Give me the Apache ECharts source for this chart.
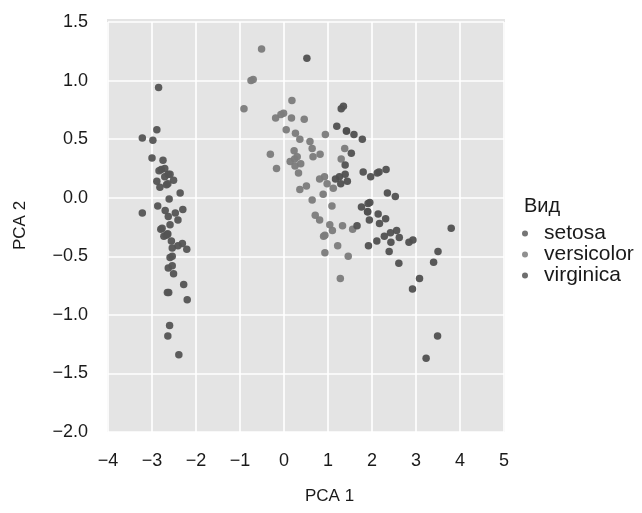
<!DOCTYPE html>
<html>
<head>
<meta charset="utf-8">
<script src="https://cdn.jsdelivr.net/npm/echarts@6/dist/echarts.min.js"></script>
<style>
  html, body { margin: 0; padding: 0; background: #ffffff; }
  #chart { width: 642px; height: 513px; }
</style>
</head>
<body>
<div id="chart"></div>
<script>
// Iris measurements projected onto the first two principal components
const speciesNames = ['setosa', 'versicolor', 'virginica'];

const setosa = [
  [-2.68, -0.32], [-2.71, 0.18], [-2.89, 0.14], [-2.75, 0.32], [-2.73, -0.33],
  [-2.28, -0.74], [-2.82, 0.09], [-2.63, -0.16], [-2.89, 0.58], [-2.67, 0.11],
  [-2.51, -0.65], [-2.61, -0.01], [-2.79, 0.24], [-3.22, 0.51], [-2.64, -1.18],
  [-2.39, -1.34], [-2.62, -0.81], [-2.65, -0.31], [-2.20, -0.87], [-2.59, -0.51],
  [-2.31, -0.39], [-2.54, -0.43], [-3.22, -0.13], [-2.30, -0.10], [-2.36, 0.04],
  [-2.51, 0.15], [-2.47, -0.13], [-2.56, -0.37], [-2.64, -0.31], [-2.63, 0.20],
  [-2.59, 0.20], [-2.41, -0.41], [-2.65, -0.81], [-2.60, -1.09], [-2.64, 0.12],
  [-2.87, -0.07], [-2.63, -0.60], [-2.80, -0.27], [-2.98, 0.49], [-2.59, -0.23],
  [-2.77, -0.26], [-2.85, 0.94], [-3.00, 0.34], [-2.41, -0.19], [-2.21, -0.44],
  [-2.71, 0.25], [-2.54, -0.50], [-2.84, 0.23], [-2.54, -0.58], [-2.70, -0.11]
];

const versicolor = [
  [1.28, -0.69], [0.93, -0.32], [1.46, -0.50], [0.18, 0.83], [1.09, -0.07],
  [0.64, 0.42], [1.10, -0.28], [-0.75, 1.00], [1.04, -0.23], [-0.01, 0.72],
  [-0.51, 1.27], [0.51, 0.10], [0.26, 0.55], [0.98, 0.12], [-0.17, 0.25],
  [0.93, -0.47], [0.66, 0.35], [0.24, 0.33], [0.94, 0.54], [0.05, 0.58],
  [1.12, 0.08], [0.36, 0.07], [1.30, 0.33], [0.92, 0.18], [0.71, -0.15],
  [0.90, -0.33], [1.33, -0.24], [1.56, -0.27], [0.81, 0.16], [-0.31, 0.37],
  [-0.07, 0.71], [-0.19, 0.68], [0.14, 0.31], [1.38, 0.42], [0.59, 0.48],
  [0.81, -0.19], [1.22, -0.41], [0.82, 0.37], [0.25, 0.27], [0.17, 0.68],
  [0.46, 0.67], [0.89, 0.03], [0.23, 0.40], [-0.70, 1.01], [0.36, 0.50],
  [0.33, 0.21], [0.38, 0.29], [0.64, -0.02], [-0.91, 0.76], [0.30, 0.35]
];

const virginica = [
  [2.53, 0.01], [1.42, 0.57], [2.62, -0.34], [1.97, 0.18], [2.35, 0.04],
  [3.40, -0.55], [0.52, 1.19], [2.93, -0.36], [2.32, 0.24], [2.92, -0.78],
  [1.66, -0.24], [1.80, 0.22], [2.17, -0.22], [1.35, 0.78], [1.59, 0.54],
  [1.90, -0.12], [1.95, -0.04], [3.49, -1.18], [3.80, -0.26], [1.30, 0.76],
  [2.43, -0.38], [1.20, 0.61], [3.50, -0.46], [1.39, 0.20], [2.28, -0.33],
  [2.61, -0.56], [1.26, 0.18], [1.29, 0.12], [2.12, 0.21], [2.39, -0.46],
  [2.84, -0.38], [3.23, -1.37], [2.16, 0.22], [1.44, 0.14], [1.78, 0.50],
  [3.08, -0.69], [2.14, -0.14], [1.91, -0.05], [1.17, 0.16], [2.11, -0.37],
  [2.31, -0.18], [1.92, -0.41], [1.42, 0.57], [2.56, -0.28], [2.42, -0.30],
  [1.94, -0.19], [1.53, 0.38], [1.76, -0.08], [1.90, -0.12], [1.39, 0.28]
];

const seriesData = [setosa, versicolor, virginica];
const seriesColors = ['#545454', '#7b7b7b', '#505050'];
const legendColors = ['#6e6e6e', '#8a8a8a', '#666666'];

const xTicks = { min: -4, max: 5, interval: 1 };
const yTicks = { min: -2, max: 1.5, interval: 0.5 };

const FONT = '"Liberation Sans", Arial, sans-serif';
const INK = '#1a1a1a';
const chart = echarts.init(document.getElementById('chart'), null, { renderer: 'canvas' });

const gridLeft = 108, gridTop = 22, gridW = 396, gridH = 410;

chart.setOption({
  animation: false,
  backgroundColor: '#ffffff',
  textStyle: { fontFamily: FONT },
  grid: { left: gridLeft, top: gridTop, width: gridW, height: gridH, show: false },
  graphic: {
    elements: [
      {
        type: 'rect', z: -100, silent: true,
        shape: { x: 107, y: 19, width: 398, height: 413 },
        style: { fill: '#e4e4e4' }
      },
      {
        type: 'text', left: 305, top: 488, silent: true,
        style: { text: 'PCA 1', fontSize: 17, fontFamily: FONT, fill: INK }
      },
      {
        type: 'text', silent: true, x: 12, y: 250, rotation: Math.PI / 2,
        style: { text: 'PCA 2', fontSize: 17, fontFamily: FONT, fill: INK }
      },
      {
        type: 'text', left: 524, top: 196, silent: true,
        style: { text: 'Вид', fontSize: 20, fontFamily: FONT, fill: INK }
      }
    ]
  },
  legend: {
    orient: 'vertical',
    left: 522, top: 223,
    padding: 0,
    icon: 'circle',
    itemWidth: 6, itemHeight: 6,
    itemGap: 0,
    selectedMode: false,
    textStyle: { fontSize: 21, lineHeight: 18.5, fontFamily: FONT, color: INK, padding: [0, 0, 0, 11] },
    data: speciesNames.map((n, i) => ({ name: n, itemStyle: { color: legendColors[i] } }))
  },
  xAxis: {
    type: 'value',
    min: xTicks.min, max: xTicks.max, interval: xTicks.interval,
    axisLine: { show: false },
    axisTick: { show: false },
    axisLabel: {
      margin: 20, fontSize: 18, fontFamily: FONT, color: INK,
      formatter: v => String(v).replace('-', '\u2212')
    },
    splitLine: { show: true, lineStyle: { color: '#ffffff', width: 1.6 } }
  },
  yAxis: {
    type: 'value',
    min: yTicks.min, max: yTicks.max, interval: yTicks.interval,
    axisLine: { show: false },
    axisTick: { show: false },
    axisLabel: {
      margin: 20, fontSize: 18, fontFamily: FONT, color: INK,
      formatter: v => v.toFixed(1).replace('-', '\u2212')
    },
    splitLine: { show: true, lineStyle: { color: '#ffffff', width: 1.6 } }
  },
  series: speciesNames.map((n, i) => ({
    name: n,
    type: 'scatter',
    symbol: 'circle',
    symbolSize: 7.5,
    data: seriesData[i],
    itemStyle: { color: seriesColors[i], opacity: 0.95 },
    emphasis: { disabled: true }
  }))
});
</script>
</body>
</html>
